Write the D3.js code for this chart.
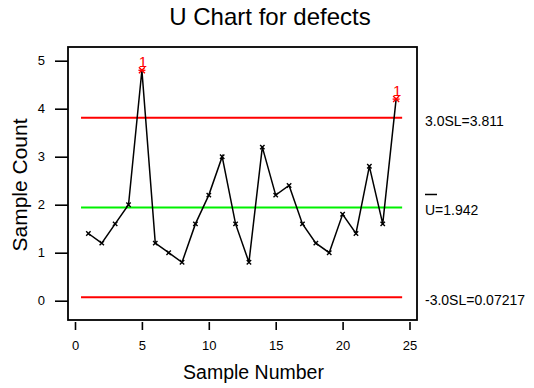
<!DOCTYPE html>
<html><head><meta charset="utf-8">
<script src="https://cdn.jsdelivr.net/npm/d3@7"></script>
<style>body{margin:0;background:#fff}svg{display:block;font-family:"Liberation Sans",Arial,sans-serif}</style>
</head><body>
<script>
const samples = d3.range(1, 25);
const values = [1.4,1.2,1.6,2.0,4.8,1.2,1.0,0.8,1.6,2.2,3.0,1.6,0.8,3.2,2.2,2.4,1.6,1.2,1.0,1.8,1.4,2.8,1.6,4.2];
const centerLine = 1.942;
const ucl = 3.811;
const lcl = 0.07217;
const xTicks = [0,5,10,15,20,25];
const yTicks = [0,1,2,3,4,5];
const limitLabels = ["3.0SL=3.811", "U=1.942", "-3.0SL=0.07217"];

const W = 534, H = 388;
const FONT = "Liberation Sans, Arial, sans-serif";
const svg = d3.select("body").append("svg").attr("width", W).attr("height", H);
const x = d3.scaleLinear().domain([0,25]).range([75,409.5]);
const y = d3.scaleLinear().domain([0,5]).range([300.7,60.7]);
const frame = {l:68, t:47, r:417, b:320};

svg.append("rect").attr("x",frame.l).attr("y",frame.t).attr("width",frame.r-frame.l).attr("height",frame.b-frame.t)
  .attr("fill","none").attr("stroke","#000").attr("stroke-width",1.8);

// x axis
const xa = svg.append("g").attr("transform",`translate(0,${frame.b+2})`)
  .call(d3.axisBottom(x).tickValues(xTicks).tickFormat(d3.format("d")).tickSize(8).tickPadding(11));
xa.select(".domain").remove();
xa.selectAll("line").attr("stroke-width",1.6);
xa.selectAll("text").attr("font-size",13).attr("font-family",FONT);

// y axis
const ya = svg.append("g").attr("transform",`translate(${frame.l},0)`)
  .call(d3.axisLeft(y).tickValues(yTicks).tickFormat(d3.format("d")).tickSize(13).tickPadding(10));
ya.select(".domain").remove();
ya.selectAll("line").attr("stroke-width",1.6);
ya.selectAll("text").attr("font-size",13).attr("font-family",FONT);

// control lines
const lx1 = x(0.45), lx2 = x(24.45);
[[ucl,"#ff0000"],[centerLine,"#00f000"],[lcl,"#ff0000"]].forEach(([v,c])=>{
  svg.append("line").attr("x1",lx1).attr("x2",lx2).attr("y1",y(v)).attr("y2",y(v))
    .attr("stroke",c).attr("stroke-width",1.8);
});

// data line
svg.append("path").datum(values)
  .attr("d", d3.line().x((d,i)=>x(samples[i])).y(d=>y(d)))
  .attr("fill","none").attr("stroke","#000").attr("stroke-width",1.5);

// markers
const out = (v)=> v>ucl || v<lcl;
const mk = svg.append("g");
values.forEach((v,i)=>{
  const cx = x(samples[i]), cy = y(v);
  const o = out(v);
  const col = o ? "#ff0000" : "#000";
  const sz = o ? 3 : 2.2;
  mk.append("path").attr("d",`M${cx-sz},${cy-sz}L${cx+sz},${cy+sz}M${cx-sz},${cy+sz}L${cx+sz},${cy-sz}`)
    .attr("stroke",col).attr("stroke-width",1.4);
  if (o) {
    mk.append("path").attr("d",`M${cx-3.5},${cy}L${cx+3.5},${cy}`).attr("stroke",col).attr("stroke-width",1.3);
    svg.append("text").attr("x",cx+1).attr("y",cy-3.5).attr("text-anchor","middle")
      .attr("font-size",15).attr("font-family",FONT).attr("fill","#ff0000").text("1");
  }
});

// right labels
const rx = 425;
svg.append("text").attr("x",rx).attr("y",y(ucl)+8.5).attr("font-size",14).text(limitLabels[0]);
svg.append("text").attr("x",rx).attr("y",y(centerLine)+8).attr("font-size",14).text(limitLabels[1]);
svg.append("line").attr("x1",rx).attr("x2",rx+12).attr("y1",y(centerLine)-13).attr("y2",y(centerLine)-13)
  .attr("stroke","#000").attr("stroke-width",1.5);
svg.append("text").attr("x",rx).attr("y",y(lcl)+7.5).attr("font-size",14).text(limitLabels[2]);

// titles
svg.append("text").attr("x",270).attr("y",24.5).attr("text-anchor","middle").attr("font-size",24).text("U Chart for defects");
svg.append("text").attr("x",253.5).attr("y",379).attr("text-anchor","middle").attr("font-size",19.5).text("Sample Number");
svg.append("text").attr("transform",`translate(27,185) rotate(-90)`).attr("text-anchor","middle")
  .attr("font-size",21).text("Sample Count");
</script>
</body></html>
